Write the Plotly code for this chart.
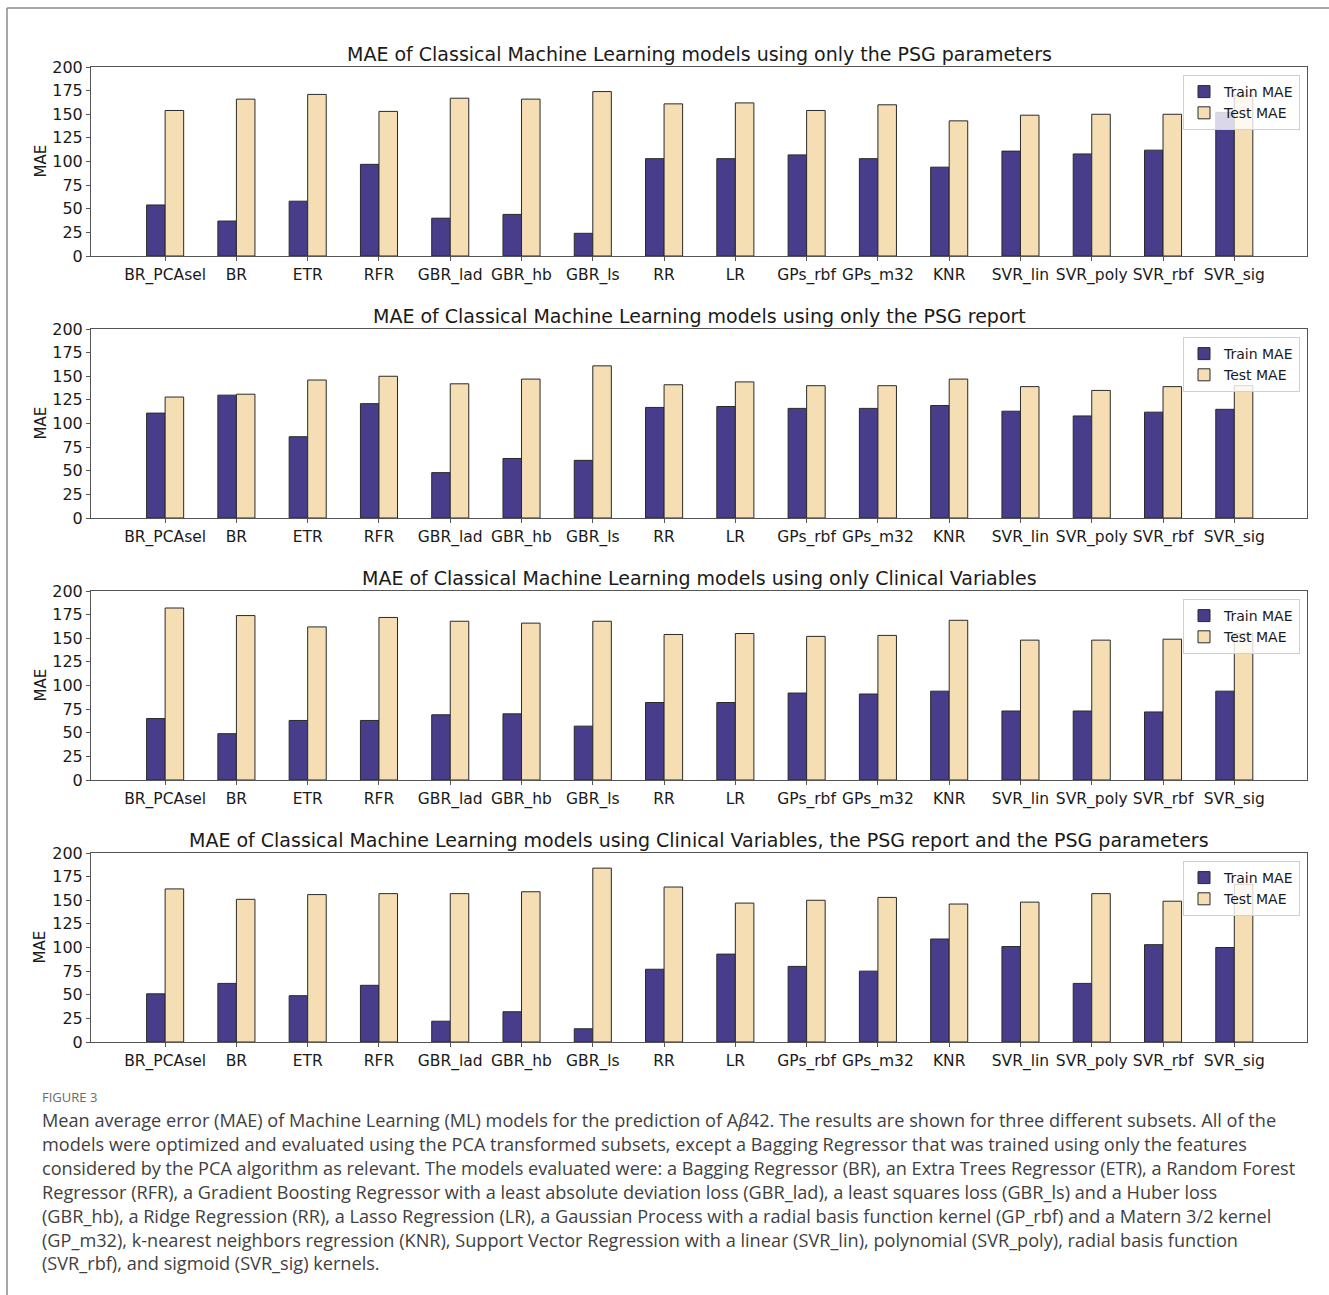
import plotly.graph_objects as go

# ---------------- data ----------------
models = ["BR_PCAsel", "BR", "ETR", "RFR", "GBR_lad", "GBR_hb", "GBR_ls", "RR",
          "LR", "GPs_rbf", "GPs_m32", "KNR", "SVR_lin", "SVR_poly", "SVR_rbf", "SVR_sig"]

psg_params_train = [54, 37, 58, 97, 40, 44, 24, 103, 103, 107, 103, 94, 111, 108, 112, 152]
psg_params_test = [154, 166, 171, 153, 167, 166, 174, 161, 162, 154, 160, 143, 149, 150, 150, 170]

psg_report_train = [111, 130, 86, 121, 48, 63, 61, 117, 118, 116, 116, 119, 113, 108, 112, 115]
psg_report_test = [128, 131, 146, 150, 142, 147, 161, 141, 144, 140, 140, 147, 139, 135, 139, 140]

clinical_train = [65, 49, 63, 63, 69, 70, 57, 82, 82, 92, 91, 94, 73, 73, 72, 94]
clinical_test = [182, 174, 162, 172, 168, 166, 168, 154, 155, 152, 153, 169, 148, 148, 149, 155]

all_train = [51, 62, 49, 60, 22, 32, 14, 77, 93, 80, 75, 109, 101, 62, 103, 100]
all_test = [162, 151, 156, 157, 157, 159, 184, 164, 147, 150, 153, 146, 148, 157, 149, 167]

panel_titles = [
    "MAE of Classical Machine Learning models using only the PSG parameters",
    "MAE of Classical Machine Learning models using only the PSG report",
    "MAE of Classical Machine Learning models using only Clinical Variables",
    "MAE of Classical Machine Learning models using Clinical Variables, the PSG report and the PSG parameters",
]
series_names = ["Train MAE", "Test MAE"]
y_ticks = [0, 25, 50, 75, 100, 125, 150, 175, 200]
y_label = "MAE"

caption_head = "FIGURE 3"
caption_lines = [
    "Mean average error (MAE) of Machine Learning (ML) models for the prediction of A<i>β</i>42. The results are shown for three different subsets. All of the",
    "models were optimized and evaluated using the PCA transformed subsets, except a Bagging Regressor that was trained using only the features",
    "considered by the PCA algorithm as relevant. The models evaluated were: a Bagging Regressor (BR), an Extra Trees Regressor (ETR), a Random Forest",
    "Regressor (RFR), a Gradient Boosting Regressor with a least absolute deviation loss (GBR_lad), a least squares loss (GBR_ls) and a Huber loss",
    "(GBR_hb), a Ridge Regression (RR), a Lasso Regression (LR), a Gaussian Process with a radial basis function kernel (GP_rbf) and a Matern 3/2 kernel",
    "(GP_m32), k-nearest neighbors regression (KNR), Support Vector Regression with a linear (SVR_lin), polynomial (SVR_poly), radial basis function",
    "(SVR_rbf), and sigmoid (SVR_sig) kernels.",
]

panels = [
    (psg_params_train, psg_params_test),
    (psg_report_train, psg_report_test),
    (clinical_train, clinical_test),
    (all_train, all_test),
]

# ---------------- layout constants ----------------
W, H = 1329, 1295
PLOT_LEFT, PLOT_RIGHT = 91, 1307
PLOT_TOPS = [67, 329, 591, 853]
PLOT_H = 189
TRAIN_COLOR = "#483d8b"
TEST_COLOR = "#f5deb3"
EDGE = "#2a2a2a"
AX_COLOR = "#555555"
BAR_W = 0.26
CHART_FONT = "DejaVu Sans"

def px_x(v):
    return v / W

def px_y(v):
    return 1 - v / H

fig = go.Figure()
layout = dict(
    width=W, height=H,
    margin=dict(l=0, r=0, t=0, b=0),
    paper_bgcolor="white", plot_bgcolor="white",
    barmode="overlay",
    font=dict(family=CHART_FONT, size=16, color="#1a1a1a"),
    annotations=[], shapes=[],
)

for i, (train, test) in enumerate(panels):
    n = "" if i == 0 else str(i + 1)
    xa, ya = "x" + n, "y" + n
    leg = "legend" + n
    top = PLOT_TOPS[i]
    bottom = top + PLOT_H

    fig.add_trace(go.Bar(
        x=models, y=train, name=series_names[0], xaxis=xa, yaxis=ya,
        width=BAR_W, offset=-BAR_W, legend=leg,
        marker=dict(color=TRAIN_COLOR, line=dict(color=EDGE, width=1)),
        hoverinfo="x+y",
    ))
    fig.add_trace(go.Bar(
        x=models, y=test, name=series_names[1], xaxis=xa, yaxis=ya,
        width=BAR_W, offset=0, legend=leg,
        marker=dict(color=TEST_COLOR, line=dict(color=EDGE, width=1)),
        hoverinfo="x+y",
    ))

    layout["xaxis" + n] = dict(
        domain=[px_x(PLOT_LEFT), px_x(PLOT_RIGHT)], anchor=ya,
        type="category", categoryorder="array", categoryarray=models,
        range=[-1.04, 16.02],
        showline=True, linecolor=AX_COLOR, linewidth=1, mirror=True,
        ticks="outside", ticklen=4, tickcolor=AX_COLOR,
        showgrid=False, zeroline=False, automargin=False,
        tickfont=dict(family=CHART_FONT, size=15.5, color="#1a1a1a"),
    )
    layout["yaxis" + n] = dict(
        domain=[px_y(bottom), px_y(top)], anchor=xa,
        range=[0, 200], tickvals=y_ticks,
        showline=True, linecolor=AX_COLOR, linewidth=1, mirror=True,
        ticks="outside", ticklen=4, tickcolor=AX_COLOR,
        showgrid=False, zeroline=False, automargin=False,
        tickfont=dict(family=CHART_FONT, size=16, color="#1a1a1a"),
    )
    layout[leg] = dict(
        x=px_x(1300), xanchor="right", y=px_y(top + 8), yanchor="top",
        bgcolor="rgba(255,255,255,0.8)", bordercolor="#d0d0d0", borderwidth=1,
        font=dict(family=CHART_FONT, size=14, color="#1a1a1a"),
        tracegroupgap=0, itemwidth=30,
    )
    layout["annotations"].append(dict(
        text=panel_titles[i], xref=xa + " domain", x=0.5, yref=ya + " domain", y=1,
        xanchor="center", yanchor="bottom", yshift=0, showarrow=False,
        font=dict(family=CHART_FONT, size=19, color="#1a1a1a"),
    ))
    layout["annotations"].append(dict(
        text=y_label, xref="paper", x=px_x(40), yref=ya + " domain", y=0.5,
        xanchor="center", yanchor="middle", textangle=-90, showarrow=False,
        font=dict(family=CHART_FONT, size=15, color="#1a1a1a"),
    ))

# caption
CAP_FONT = "Open Sans"
layout["annotations"].append(dict(
    text=caption_head, xref="paper", x=px_x(40), yref="paper", y=px_y(1097),
    xanchor="left", yanchor="middle", showarrow=False,
    font=dict(family=CAP_FONT, size=13, color="#6a6a6a"),
))
for k, line in enumerate(caption_lines):
    layout["annotations"].append(dict(
        text=line, xref="paper", x=px_x(40), yref="paper", y=px_y(1120 + k * 23.9),
        xanchor="left", yanchor="middle", showarrow=False,
        font=dict(family=CAP_FONT, size=18.15, color="#3f3f3f"),
    ))

# page frame (left and top rules)
layout["shapes"].append(dict(type="line", xref="paper", yref="paper",
                             x0=px_x(7), x1=px_x(7), y0=0, y1=px_y(8),
                             line=dict(color="#8a8a8a", width=1.5)))
layout["shapes"].append(dict(type="line", xref="paper", yref="paper",
                             x0=px_x(7), x1=1, y0=px_y(8), y1=px_y(8),
                             line=dict(color="#8a8a8a", width=1.5)))

fig.update_layout(**layout)
fig.write_html("out.html")
